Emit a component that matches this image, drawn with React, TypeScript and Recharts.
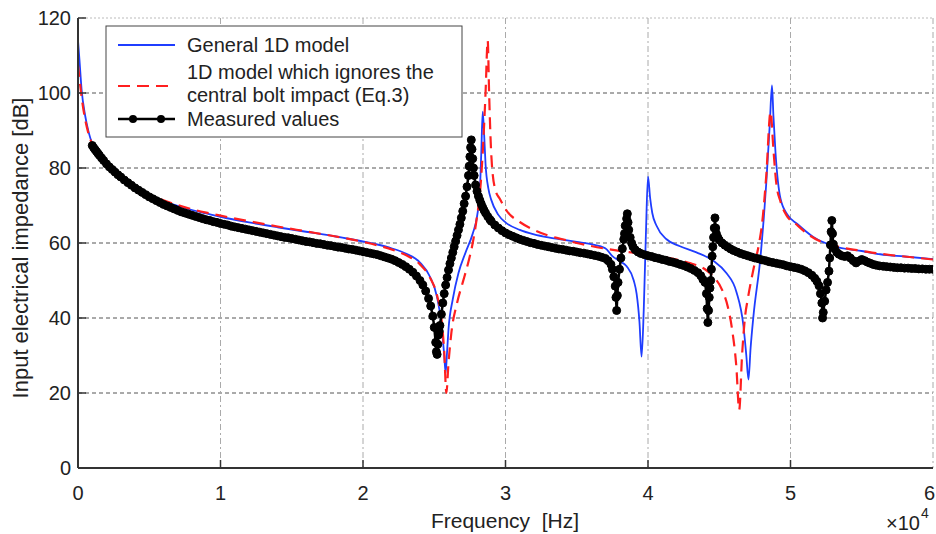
import React from "react";
import { LineChart, Line, XAxis, YAxis, CartesianGrid } from "recharts";

// frequency in Hz, impedance in dB

const xTicks = [0, 10000, 20000, 30000, 40000, 50000, 60000];
const yTicks = [0, 20, 40, 60, 80, 100, 120];
const yGridDark = [20, 40, 60, 80, 100];
const yGridTop = [120];
const xGrid = [10000, 20000, 30000, 40000, 50000, 60000];

const generalHz = [
  0, 100, 250, 500, 750, 1000, 1500, 2000, 3000, 4000, 5000, 6000, 7000, 8000, 9000, 10000,
  12000, 14000, 16000, 18000, 20000, 21000, 22000, 23000, 24000, 24700, 25200, 25500, 25700,
  25800, 25900, 26000, 26300, 26700, 27200, 27700, 28000, 28200, 28300, 28400, 28500, 28600,
  28800, 29000, 29500, 30000, 31000, 32000, 33000, 34000, 35000, 36000, 37000, 37500, 38000,
  38500, 39000, 39200, 39400, 39550, 39700, 39850, 40000, 40150, 40300, 40600, 41300, 42200,
  43400, 44600, 45500, 46200, 46700, 46900, 47050, 47200, 47400, 47900, 48300, 48550, 48700,
  48800, 48950, 49300, 49800, 50500, 51600, 53000, 55100, 56300, 58000, 60000,
];
const generalDb = [
  114, 109, 101, 94, 89.5, 86.5, 83, 80.5, 77, 74.5, 72.6, 71.1, 69.9, 68.8, 67.9, 67,
  65.5, 64.2, 63, 61.8, 60.4, 59.6, 58.6, 57.2, 54.8, 51, 45.5, 38.5, 30,
  25.4, 31, 37, 45, 52, 57.5, 62.5, 67, 74, 84, 95, 89, 81,
  74.5, 71.5, 67.5, 65.5, 63.5, 62.3, 61.5, 60.9, 60.3, 59.7, 58.6, 56.5, 55.2,
  53.8, 50, 46.5, 39, 29.7, 42, 62, 77.7, 72, 68, 64.6, 61, 59.2,
  57.5, 55.2, 52, 47, 37.8, 30, 23.6, 32, 40.5, 56.5, 76, 92, 102,
  94, 84, 71.8, 67.5, 65, 61.6, 59.2, 57.8, 57, 56.4, 55.7,
];

const eq3Hz = [
  0, 100, 250, 500, 750, 1000, 1500, 2000, 3000, 4000, 5000, 6000, 7000, 8000, 9000, 10000,
  12000, 14000, 16000, 18000, 20000, 21000, 22000, 23000, 24000, 24700, 25200, 25500, 25700,
  25850, 26000, 26200, 26600, 27000, 27400, 27700, 28000, 28200, 28400, 28600, 28750, 28850,
  28950, 29050, 29300, 29600, 30100, 31000, 32000, 33000, 34000, 35000, 36000, 37000, 38000,
  39000, 40000, 41000, 42000, 43000, 44000, 44600, 45200, 45600, 45900, 46200, 46400, 46600,
  46800, 47000, 47400, 47800, 48000, 48300, 48600, 48800, 49000, 49300, 49700, 50400, 51000,
  52000, 53000, 54000, 55000, 56000, 57000, 58000, 59000, 60000,
];
const eq3Db = [
  107.5, 104, 99, 93, 89, 86.3, 83, 80.6, 77.2, 74.8, 72.9, 71.4, 70.1, 69, 68.1, 67.3,
  65.8, 64.4, 63.1, 61.8, 60.3, 59.4, 58.3, 56.8, 54.3, 50.8, 46, 40, 31,
  20, 28, 36, 44, 49.5, 55, 60, 67, 73, 84, 100, 114, 100,
  88, 80.6, 74, 71.8, 68.5, 65.6, 63.5, 62, 61, 60, 59.2, 58.5, 57.9,
  57.4, 56.9, 56.3, 55.6, 54.6, 53, 51, 47.5, 43, 37, 27, 15.5, 30,
  40, 45, 53, 60, 65, 78, 95, 85, 76, 71, 67.5, 65, 63,
  60.6, 59.4, 58.5, 57.9, 57.3, 56.8, 56.4, 56, 55.6,
];

const measuredHz = [
  1000, 1100, 1200, 1300, 1400, 1500, 1650, 1800, 2000, 2200, 2400, 2600, 2800, 3000, 3250,
  3500, 3750, 4000, 4250, 4500, 4750, 5000, 5250, 5500, 5750, 6000, 6250, 6500, 6750, 7000,
  7250, 7500, 7750, 8000, 8250, 8500, 8750, 9000, 9250, 9500, 9750, 10000, 10250, 10500,
  10750, 11000, 11250, 11500, 11750, 12000, 12250, 12500, 12750, 13000, 13250, 13500, 13750,
  14000, 14250, 14500, 14750, 15000, 15250, 15500, 15750, 16000, 16250, 16500, 16750, 17000,
  17250, 17500, 17750, 18000, 18250, 18500, 18750, 19000, 19250, 19500, 19750, 20000, 20250,
  20500, 20750, 21000, 21250, 21500, 21750, 22000, 22250, 22500, 22750, 23000, 23250, 23500,
  23750, 24000, 24200, 24400, 24600, 24750, 24900, 25000, 25100, 25150, 25200, 25250, 25300,
  25350, 25400, 25500, 25600, 25700, 25800, 25900, 26000, 26100, 26200, 26300, 26400, 26500,
  26600, 26700, 26800, 26900, 27000, 27100, 27200, 27300, 27400, 27450, 27500, 27550, 27600,
  27650, 27700, 27750, 27800, 27900, 28000, 28100, 28200, 28300, 28400, 28500, 28600, 28750,
  28900, 29000, 29250, 29500, 29750, 30000, 30250, 30500, 30750, 31000, 31250, 31500, 31750,
  32000, 32250, 32500, 32750, 33000, 33250, 33500, 33750, 34000, 34250, 34500, 34750, 35000,
  35250, 35500, 35750, 36000, 36250, 36500, 36750, 37000, 37200, 37400, 37500, 37600, 37700,
  37750, 37800, 37850, 37900, 38000, 38100, 38200, 38300, 38350, 38400, 38500, 38550, 38600,
  38650, 38750, 38850, 38950, 39100, 39300, 39500, 39750, 40000, 40250, 40500, 40750, 41000,
  41250, 41500, 41750, 42000, 42250, 42500, 42750, 43000, 43250, 43500, 43700, 43850, 44000,
  44100, 44150, 44200, 44250, 44300, 44350, 44400, 44450, 44500, 44550, 44600, 44650, 44700,
  44750, 44800, 44900, 45000, 45200, 45400, 45600, 45800, 46000, 46250, 46500, 46750, 47000,
  47250, 47500, 47750, 48000, 48250, 48500, 48750, 49000, 49250, 49500, 49750, 50000, 50250,
  50500, 50750, 51000, 51250, 51500, 51700, 51850, 52000, 52100, 52200, 52250, 52300, 52400,
  52500, 52600, 52700, 52750, 52800, 52850, 52900, 52950, 53000, 53100, 53250, 53400, 53600,
  53800, 54000, 54200, 54400, 54600, 54800, 55000, 55200, 55400, 55600, 55800, 56000, 56250,
  56500, 56750, 57000, 57250, 57500, 57750, 58000, 58250, 58500, 58750, 59000, 59250, 59500,
  59750, 60000,
];
const measuredDb = [
  86.0, 85.4, 84.9, 84.4, 83.9, 83.4, 82.7, 82.0, 81.1, 80.3, 79.6, 78.9, 78.2, 77.6, 76.8,
  76.1, 75.4, 74.7, 74.1, 73.5, 72.9, 72.3, 71.8, 71.3, 70.8, 70.3, 69.9, 69.5, 69.1, 68.7,
  68.3, 68.0, 67.7, 67.4, 67.1, 66.8, 66.5, 66.2, 66.0, 65.7, 65.5, 65.2, 65.0, 64.8,
  64.5, 64.3, 64.1, 63.9, 63.7, 63.5, 63.3, 63.1, 62.9, 62.7, 62.5, 62.3, 62.1,
  61.9, 61.7, 61.5, 61.4, 61.2, 61.0, 60.8, 60.6, 60.4, 60.3, 60.1, 59.9, 59.8,
  59.6, 59.4, 59.3, 59.1, 58.9, 58.8, 58.6, 58.4, 58.3, 58.1, 57.9, 57.7, 57.5,
  57.3, 57.1, 56.9, 56.6, 56.3, 56.0, 55.7, 55.3, 54.8, 54.3, 53.7, 53.0, 52.2,
  51.2, 50.0, 48.8, 47.2, 45.2, 43.2, 40.5, 37.5, 33.5, 31.0, 30.3, 33.0, 35.5,
  36.5, 38.0, 41.0, 44.0, 46.5, 48.8, 50.8, 52.8, 54.5, 56.0, 57.5, 59.0, 60.5,
  62.0, 63.5, 65.0, 66.7, 68.5, 70.5, 72.5, 75.0, 78.0, 80.5, 83.0, 85.5, 87.5,
  85.0, 82.5, 80.0, 78.0, 75.5, 73.8, 72.5, 71.4, 70.4, 69.5, 68.7, 68.0, 67.1,
  66.3, 65.8, 64.8, 64.0, 63.3, 62.7, 62.2, 61.8, 61.4, 61.0, 60.7, 60.4, 60.1,
  59.9, 59.6, 59.4, 59.2, 59.0, 58.8, 58.6, 58.4, 58.3, 58.1, 57.9, 57.8, 57.6,
  57.4, 57.3, 57.1, 56.9, 56.7, 56.5, 56.2, 55.9, 55.3, 54.3, 53.0, 51.0, 48.5,
  45.5, 42.0, 46.0, 49.5, 53.0, 56.0, 58.5, 61.0, 62.5, 64.6, 66.5, 67.8, 65.5,
  63.5, 61.5, 60.0, 59.0, 58.2, 57.6, 57.2, 56.9, 56.6, 56.4, 56.1, 55.9, 55.6,
  55.4, 55.1, 54.9, 54.6, 54.3, 54.0, 53.6, 53.2, 52.7, 52.1, 51.3, 50.3, 49.5,
  46.5, 42.5, 38.8, 42.0, 45.5, 48.0, 50.0, 53.0, 56.5, 59.0, 61.5, 64.0, 66.7,
  64.0, 62.5, 61.5, 60.8, 60.0, 59.4, 58.9, 58.4, 58.0, 57.6, 57.2, 56.9, 56.6,
  56.3, 56.0, 55.8, 55.5, 55.3, 55.0, 54.8, 54.6, 54.4, 54.2, 53.9, 53.7, 53.5,
  53.3, 53.0, 52.6, 52.1, 51.4, 50.6, 49.8, 48.6, 46.5, 44.0, 40.0, 41.5, 44.5,
  47.5, 49.5, 52.5, 56.0, 59.5, 63.0, 66.0, 62.5, 59.7, 58.5, 57.5, 57.0, 56.6,
  56.4, 56.6, 56.0, 55.3, 54.7, 55.2, 55.6, 55.3, 54.9, 54.6, 54.3, 54.1, 53.9,
  53.8, 53.7, 53.6, 53.5, 53.4, 53.4, 53.3, 53.3, 53.2, 53.2, 53.1, 53.1, 53.0,
  53.0, 53.0,
];

const toPoints = (hz: number[], db: number[]) => hz.map((f, i) => ({ f, db: db[i] }));

const generalData = toPoints(generalHz, generalDb);
const eq3Data = toPoints(eq3Hz, eq3Db);
const measuredData = toPoints(measuredHz, measuredDb);

const W = 936;
const H = 534;
const PLOT = { left: 78, right: 933, top: 18, bottom: 468 };
const FONT = '"Liberation Sans", Arial, Helvetica, sans-serif';
const BLUE = "#1f3dff";
const RED = "#ff1f1f";
const TEXT = "#222";

const XTick = (props: any) => {
  const { x, payload } = props;
  const v = payload.value;
  const inner = v > 0 && v < 60000;
  const last = v === 60000;
  return (
    <g>
      {inner && (
        <line x1={x} x2={x} y1={PLOT.bottom} y2={PLOT.bottom - 8} stroke="#333" strokeWidth={1.5} />
      )}
      <text
        x={last ? W - 1 : x}
        y={500}
        textAnchor={last ? "end" : "middle"}
        fontSize={20}
        fill={TEXT}
        fontFamily={FONT}
      >
        {v / 10000}
      </text>
    </g>
  );
};

const YTick = (props: any) => {
  const { y, payload } = props;
  const v = payload.value;
  return (
    <g>
      {v > 0 && (
        <line x1={PLOT.left} x2={PLOT.left + 8} y1={y} y2={y} stroke="#333" strokeWidth={1.5} />
      )}
      <text x={71} y={y} dy={7} textAnchor="end" fontSize={20} fill={TEXT} fontFamily={FONT}>
        {v}
      </text>
    </g>
  );
};

const Legend = () => (
  <g fontFamily={FONT} fontSize={20} fill={TEXT}>
    <rect x={106} y={26} width={356} height={111} fill="#fff" stroke="#444" strokeWidth={1} />
    <line x1={118} x2={175} y1={45} y2={45} stroke={BLUE} strokeWidth={2} />
    <text x={187} y={52}>General 1D model</text>
    <line x1={118} x2={175} y1={86} y2={86} stroke={RED} strokeWidth={2.2} strokeDasharray="12 7" />
    <text x={187} y={79}>1D model which ignores the</text>
    <text x={187} y={102}>central bolt impact (Eq.3)</text>
    <line x1={118} x2={175} y1={119} y2={119} stroke="#000" strokeWidth={2.5} />
    <circle cx={133} cy={119} r={4} fill="#000" />
    <circle cx={161} cy={119} r={4} fill="#000" />
    <text x={187} y={126}>Measured values</text>
  </g>
);

export default function App() {
  return (
    <div style={{ position: "fixed", left: 0, top: 0, width: W, height: H, background: "#fff" }}>
      <LineChart
        width={W}
        height={H}
        margin={{ top: PLOT.top, right: W - PLOT.right, left: 0, bottom: 0 }}
      >
        <CartesianGrid
          vertical={false}
          horizontalValues={yGridDark}
          stroke="#555"
          strokeDasharray="4 3"
        />
        <CartesianGrid
          vertical={false}
          horizontalValues={yGridTop}
          stroke="#bbb"
          strokeDasharray="2 2"
        />
        <CartesianGrid
          horizontal={false}
          verticalValues={xGrid}
          stroke="#aaa"
          strokeDasharray="6 3 2 3"
        />
        <XAxis
          type="number"
          dataKey="f"
          domain={[0, 60000]}
          ticks={xTicks}
          interval={0}
          allowDataOverflow
          height={H - PLOT.bottom}
          tickLine={false}
          tickSize={0}
          axisLine={{ stroke: "#333", strokeWidth: 2 }}
          tick={<XTick />}
        />
        <YAxis
          type="number"
          domain={[0, 120]}
          ticks={yTicks}
          interval={0}
          allowDataOverflow
          width={PLOT.left}
          tickLine={false}
          tickSize={0}
          axisLine={{ stroke: "#333", strokeWidth: 2 }}
          tick={<YTick />}
        />
        <Line
          data={generalData}
          dataKey="db"
          type="monotoneX"
          stroke={BLUE}
          strokeWidth={1.8}
          dot={false}
          activeDot={false}
          isAnimationActive={false}
        />
        <Line
          data={eq3Data}
          dataKey="db"
          type="monotoneX"
          stroke={RED}
          strokeWidth={2.2}
          strokeDasharray="12 7"
          dot={false}
          activeDot={false}
          isAnimationActive={false}
        />
        <Line
          data={measuredData}
          dataKey="db"
          type="linear"
          stroke="#000"
          strokeWidth={2.5}
          dot={{ r: 4, fill: "#000", stroke: "#000", strokeWidth: 1 }}
          activeDot={false}
          isAnimationActive={false}
        />
      </LineChart>
      <svg
        width={W}
        height={H}
        style={{ position: "absolute", left: 0, top: 0, pointerEvents: "none" }}
      >
        <Legend />
        <text
          x={28}
          y={248}
          transform="rotate(-90 28 248)"
          textAnchor="middle"
          fontSize={22}
          fill={TEXT}
          fontFamily={FONT}
        >
          Input electrical impedance [dB]
        </text>
        <text x={505} y={528} textAnchor="middle" fontSize={21} fill={TEXT} fontFamily={FONT}>
          {"Frequency\u00a0\u00a0[Hz]"}
        </text>
        <text x={920} y={530} textAnchor="end" fontSize={20} fill={TEXT} fontFamily={FONT}>
          ×10
        </text>
        <text x={921} y={518} fontSize={14} fill={TEXT} fontFamily={FONT}>
          4
        </text>
      </svg>
    </div>
  );
}
